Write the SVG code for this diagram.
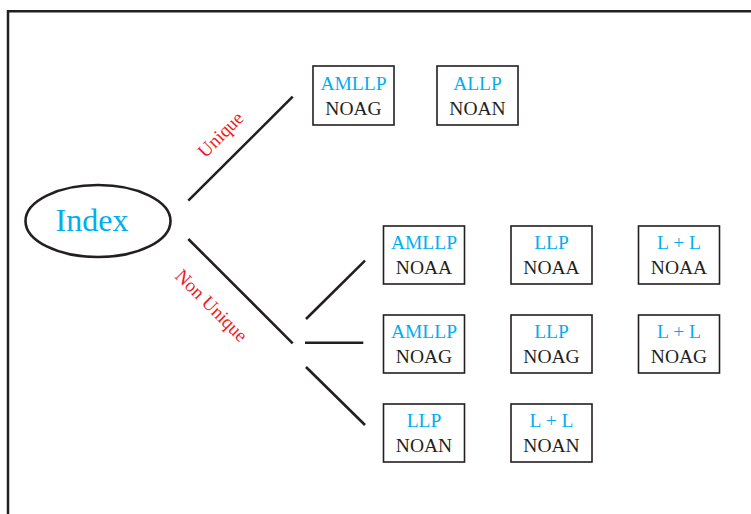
<svg xmlns="http://www.w3.org/2000/svg" width="751" height="514" viewBox="0 0 751 514">
  <style>
    .frame { fill: none; stroke: #231F20; stroke-width: 2.5; }
    .box { fill: #fff; stroke: #231F20; stroke-width: 1.6; }
    .edge { fill: none; stroke: #231F20; stroke-width: 2.6; }
    .t { font-family: "Liberation Serif", "Times New Roman", serif; font-size: 19.5px; text-anchor: middle; }
    .blue { fill: #00AEEF; }
    .dark { fill: #231F20; }
    .lbl { font-family: "Liberation Serif", "Times New Roman", serif; font-size: 19px; fill: #ED1C24; text-anchor: middle; }
  </style>
  <rect width="751" height="514" fill="#fff"/>
  <path class="frame" d="M8,514 V11.3 H751"/>

  <g id="index">
    <ellipse cx="98" cy="221" rx="72.5" ry="36" fill="#fff" stroke="#231F20" stroke-width="2.6"/>
    <text x="92" y="230.5" font-family="Liberation Serif, Times New Roman, serif" font-size="32" fill="#00AEEF" text-anchor="middle">Index</text>
  </g>

  <g id="connectors">
    <line class="edge" x1="188.3" y1="200.7" x2="292.7" y2="96.7"/>
    <line class="edge" x1="188.3" y1="239" x2="292.7" y2="343.3"/>
    <line class="edge" x1="306" y1="319" x2="365" y2="260.7"/>
    <line class="edge" x1="305" y1="342.7" x2="363.3" y2="342.7"/>
    <line class="edge" x1="306" y1="367" x2="365" y2="425"/>
    <text class="lbl" transform="translate(225,139) rotate(-45)">Unique</text>
    <text class="lbl" transform="translate(207,310) rotate(45)">Non Unique</text>
  </g>

  <g id="u-amllp-noag">
    <rect class="box" x="313" y="66" width="81" height="59"/>
    <text class="t blue" x="353.5" y="90">AMLLP</text>
    <text class="t dark" x="353.5" y="115">NOAG</text>
  </g>
  <g id="u-allp-noan">
    <rect class="box" x="437" y="66" width="81" height="59"/>
    <text class="t blue" x="477.5" y="90">ALLP</text>
    <text class="t dark" x="477.5" y="115">NOAN</text>
  </g>

  <g id="amllp-noaa">
    <rect class="box" x="383.5" y="226" width="81" height="58"/>
    <text class="t blue" x="424" y="249.3">AMLLP</text>
    <text class="t dark" x="424" y="274.3">NOAA</text>
  </g>
  <g id="llp-noaa">
    <rect class="box" x="511" y="226" width="81" height="58"/>
    <text class="t blue" x="551.5" y="249.3">LLP</text>
    <text class="t dark" x="551.5" y="274.3">NOAA</text>
  </g>
  <g id="ll-noaa">
    <rect class="box" x="638.5" y="226" width="81" height="58"/>
    <text class="t blue" x="679" y="249.3">L + L</text>
    <text class="t dark" x="679" y="274.3">NOAA</text>
  </g>

  <g id="amllp-noag">
    <rect class="box" x="383.5" y="315" width="81" height="58"/>
    <text class="t blue" x="424" y="338.3">AMLLP</text>
    <text class="t dark" x="424" y="363.3">NOAG</text>
  </g>
  <g id="llp-noag">
    <rect class="box" x="511" y="315" width="81" height="58"/>
    <text class="t blue" x="551.5" y="338.3">LLP</text>
    <text class="t dark" x="551.5" y="363.3">NOAG</text>
  </g>
  <g id="ll-noag">
    <rect class="box" x="638.5" y="315" width="81" height="58"/>
    <text class="t blue" x="679" y="338.3">L + L</text>
    <text class="t dark" x="679" y="363.3">NOAG</text>
  </g>

  <g id="llp-noan">
    <rect class="box" x="383.5" y="404" width="81" height="58"/>
    <text class="t blue" x="424" y="427.3">LLP</text>
    <text class="t dark" x="424" y="452.3">NOAN</text>
  </g>
  <g id="ll-noan">
    <rect class="box" x="511" y="404" width="81" height="58"/>
    <text class="t blue" x="551.5" y="427.3">L + L</text>
    <text class="t dark" x="551.5" y="452.3">NOAN</text>
  </g>
</svg>
